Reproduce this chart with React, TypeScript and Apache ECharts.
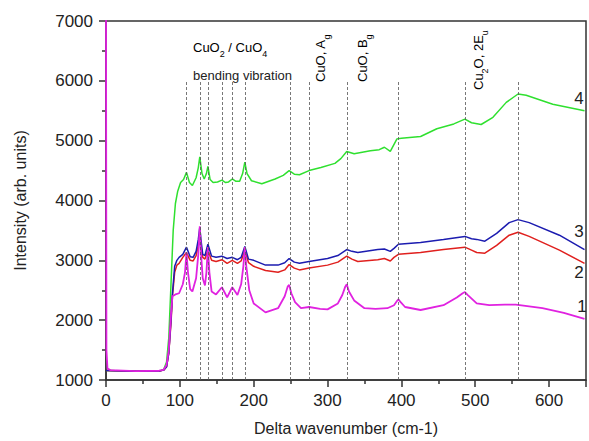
import React, { useEffect, useRef } from "react";
import * as echarts from "echarts";

// ---- data ----
const s1X = [0, 0.6, 2, 6, 40, 72, 78, 82, 85, 88, 90, 94, 99, 104, 107, 109, 111, 114, 117, 122, 125, 127, 129, 131, 134, 136, 138, 140, 143, 149, 157, 164, 171, 178, 183, 186, 188, 190, 194, 200, 216, 233, 242, 246, 248, 251, 256, 264, 275, 290, 300, 314, 320, 324, 326, 329, 336, 350, 365, 381, 390, 394, 396, 399, 405, 426, 457, 475, 483, 486, 490, 502, 519, 540, 555, 591, 620, 648];
const s1Y = [7300, 1500, 1190, 1165, 1150, 1155, 1170, 1250, 1500, 2100, 2400, 2430, 2450, 2600, 2800, 3130, 2800, 2520, 2480, 2700, 3100, 3570, 3050, 2700, 2580, 2800, 3220, 2800, 2480, 2430, 2550, 2380, 2550, 2420, 2600, 2900, 3220, 2900, 2500, 2280, 2130, 2200, 2400, 2560, 2590, 2450, 2300, 2200, 2220, 2190, 2180, 2280, 2420, 2560, 2600, 2480, 2330, 2200, 2190, 2200, 2250, 2320, 2350, 2300, 2220, 2170, 2250, 2380, 2450, 2470, 2420, 2280, 2250, 2260, 2260, 2200, 2120, 2020];

const s2X = [0, 40, 72, 78, 82, 85, 88, 90, 93, 96, 99, 104, 109, 114, 118, 122, 125, 127, 129, 131, 134, 138, 143, 149, 157, 164, 171, 178, 183, 188, 193, 200, 216, 233, 242, 248, 255, 262, 275, 300, 314, 326, 333, 341, 368, 377, 385, 390, 396, 426, 457, 486, 495, 502, 513, 529, 546, 558, 573, 614, 648];
const s2Y = [1160, 1145, 1150, 1165, 1220, 1450, 1950, 2400, 2800, 2920, 2950, 3050, 3130, 3000, 2990, 3080, 3250, 3450, 3200, 3050, 3020, 3170, 3000, 2980, 3010, 2950, 3000, 2950, 2990, 3170, 2960, 2900, 2830, 2800, 2840, 2930, 2870, 2840, 2870, 2920, 2970, 3070, 3020, 2980, 3010, 3030, 2990, 3050, 3100, 3130, 3180, 3220, 3170, 3130, 3120, 3250, 3420, 3470, 3400, 3170, 2950];

const s3X = [0, 40, 72, 78, 82, 85, 88, 90, 93, 96, 99, 104, 109, 114, 118, 122, 125, 127, 129, 131, 134, 138, 143, 149, 157, 164, 171, 178, 183, 188, 193, 200, 216, 233, 242, 248, 255, 262, 275, 300, 314, 326, 333, 341, 368, 377, 385, 390, 396, 426, 457, 486, 495, 502, 513, 529, 546, 558, 573, 614, 648];
const s3Y = [1160, 1145, 1150, 1165, 1220, 1450, 2000, 2450, 2900, 3000, 3050, 3100, 3220, 3060, 3050, 3150, 3350, 3550, 3300, 3100, 3080, 3270, 3070, 3050, 3070, 3030, 3050, 3010, 3050, 3230, 3020, 3000, 2920, 2920, 2960, 3030, 2970, 2950, 2980, 3030, 3080, 3180, 3150, 3130, 3180, 3190, 3150, 3200, 3270, 3300, 3350, 3400, 3360, 3350, 3320, 3450, 3630, 3680, 3630, 3420, 3180];

const s4X = [0, 40, 72, 78, 82, 85, 88, 91, 94, 97, 101, 105, 109, 113, 117, 122, 125, 127, 130, 133, 136, 138, 141, 145, 151, 157, 162, 166, 171, 176, 181, 185, 188, 191, 197, 211, 229, 240, 248, 255, 262, 275, 291, 310, 318, 326, 336, 358, 370, 377, 385, 394, 400, 426, 448, 471, 486, 495, 508, 524, 542, 558, 569, 605, 648];
const s4Y = [1160, 1145, 1150, 1170, 1300, 1700, 2600, 3500, 3950, 4150, 4300, 4350, 4470, 4300, 4250, 4380, 4550, 4730, 4450, 4360, 4450, 4570, 4350, 4300, 4310, 4340, 4300, 4310, 4360, 4320, 4320, 4450, 4640, 4450, 4330, 4280, 4360, 4420, 4500, 4440, 4430, 4500, 4550, 4620, 4700, 4820, 4780, 4830, 4850, 4890, 4820, 5030, 5040, 5070, 5200, 5280, 5360, 5300, 5270, 5390, 5640, 5780, 5760, 5610, 5500];

const bandPositions = [109, 127, 138, 157, 171, 188, 250, 275, 327, 396, 487, 558];
const seriesNames = ["1", "2", "3", "4"];
const yTicks = [1000, 7000, 1000]; // min, max, interval
const xRange = [0, 650, 100];

const FONT = "'Liberation Sans', Arial, Helvetica, sans-serif";

function pairs(xs: number[], ys: number[]) {
  return xs.map((x, i) => [x, ys[i]]);
}

export default function App() {
  const ref = useRef<HTMLDivElement>(null);

  useEffect(() => {
    if (!ref.current) return;
    const chart = echarts.init(ref.current, undefined, { renderer: "svg" });

    const rich = {
      n: { fontSize: 13, fontFamily: FONT, color: "#222", lineHeight: 16, verticalAlign: "top" },
      s: { fontSize: 9, fontFamily: FONT, color: "#222", lineHeight: 10, padding: [8, 0, 0, 0], verticalAlign: "top" },
    };

    const lineCommon = {
      type: "line",
      showSymbol: false,
      symbol: "none",
      smooth: false,
      clip: true,
      z: 3,
    };

    chart.setOption({
      animation: false,
      backgroundColor: "#ffffff",
      grid: {
        left: 106,
        top: 21,
        right: -2,
        bottom: 61,
        show: true,
        borderColor: "#333",
        borderWidth: 1.5,
        containLabel: false,
      },
      xAxis: {
        type: "value",
        min: xRange[0],
        max: xRange[1],
        interval: xRange[2],
        name: "Delta wavenumber (cm-1)",
        nameLocation: "middle",
        nameGap: 40,
        nameTextStyle: { fontSize: 16, fontFamily: FONT, color: "#222" },
        axisLine: { show: true, lineStyle: { color: "#333", width: 1.5 } },
        axisTick: { show: true, inside: false, length: 7, lineStyle: { color: "#333", width: 1.5 } },
        minorTick: { show: true, splitNumber: 2, length: 4, lineStyle: { color: "#333", width: 1.5 } },
        axisLabel: {
          fontSize: 17,
          fontFamily: FONT,
          color: "#222",
          margin: 12,
          formatter: (v: number) => (v > 600 ? "" : String(v)),
        },
        splitLine: { show: false },
      },
      yAxis: {
        type: "value",
        min: yTicks[0],
        max: yTicks[1],
        interval: yTicks[2],
        name: "Intensity (arb. units)",
        nameLocation: "middle",
        nameGap: 78,
        nameTextStyle: { fontSize: 16, fontFamily: FONT, color: "#222" },
        axisLine: { show: true, lineStyle: { color: "#333", width: 1.5 } },
        axisTick: { show: true, inside: false, length: 7, lineStyle: { color: "#333", width: 1.5 } },
        minorTick: { show: true, splitNumber: 2, length: 4, lineStyle: { color: "#333", width: 1.5 } },
        axisLabel: {
          fontSize: 17,
          fontFamily: FONT,
          color: "#222",
          margin: 13,
          formatter: (v: number) => String(v),
        },
        splitLine: { show: false },
      },
      series: [
        {
          type: "line",
          name: "bands",
          data: [],
          z: 1,
          silent: true,
          markLine: {
            silent: true,
            symbol: ["none", "none"],
            label: { show: false },
            lineStyle: { type: [3, 2], color: "#555", width: 0.8 },
            data: bandPositions.map((x) => [
              { coord: [x, 1000] },
              { coord: [x, 6000] },
            ]),
          },
        },
        {
          ...lineCommon,
          name: seriesNames[3],
          data: pairs(s4X, s4Y),
          lineStyle: { color: "#2fe02f", width: 1.5 },
          itemStyle: { color: "#2fe02f" },
        },
        {
          ...lineCommon,
          name: seriesNames[1],
          data: pairs(s2X, s2Y),
          lineStyle: { color: "#e0201e", width: 1.5 },
          itemStyle: { color: "#e0201e" },
        },
        {
          ...lineCommon,
          name: seriesNames[2],
          data: pairs(s3X, s3Y),
          lineStyle: { color: "#1c1cb0", width: 1.5 },
          itemStyle: { color: "#1c1cb0" },
        },
        {
          ...lineCommon,
          name: seriesNames[0],
          data: pairs(s1X, s1Y),
          lineStyle: { color: "#e022e0", width: 1.8 },
          itemStyle: { color: "#e022e0" },
        },
      ],
      graphic: [
        {
          type: "text",
          x: 193,
          y: 41,
          z: 10,
          style: {
            text: "{n|CuO}{s|2}{n| / CuO}{s|4}",
            rich,
            align: "left",
            verticalAlign: "top",
          },
        },
        {
          type: "text",
          x: 193,
          y: 75,
          z: 10,
          style: {
            text: "bending vibration",
            fontSize: 13,
            fontFamily: FONT,
            fill: "#222",
            align: "left",
            verticalAlign: "middle",
          },
        },
        {
          type: "text",
          x: 322,
          y: 82,
          rotation: Math.PI / 2,
          z: 10,
          style: {
            text: "{n|CuO, A}{s|g}",
            rich,
            align: "left",
            verticalAlign: "middle",
          },
        },
        {
          type: "text",
          x: 364,
          y: 82,
          rotation: Math.PI / 2,
          z: 10,
          style: {
            text: "{n|CuO, B}{s|g}",
            rich,
            align: "left",
            verticalAlign: "middle",
          },
        },
        {
          type: "text",
          x: 480,
          y: 90,
          rotation: Math.PI / 2,
          z: 10,
          style: {
            text: "{n|Cu}{s|2}{n|O, 2E}{s|u}",
            rich,
            align: "left",
            verticalAlign: "middle",
          },
        },
        {
          type: "text",
          x: 579,
          y: 98,
          z: 10,
          style: { text: seriesNames[3], fontSize: 17, fontFamily: FONT, fill: "#222", align: "center", verticalAlign: "middle" },
        },
        {
          type: "text",
          x: 579,
          y: 231,
          z: 10,
          style: { text: seriesNames[2], fontSize: 17, fontFamily: FONT, fill: "#222", align: "center", verticalAlign: "middle" },
        },
        {
          type: "text",
          x: 579,
          y: 272,
          z: 10,
          style: { text: seriesNames[1], fontSize: 17, fontFamily: FONT, fill: "#222", align: "center", verticalAlign: "middle" },
        },
        {
          type: "text",
          x: 582,
          y: 306,
          z: 10,
          style: { text: seriesNames[0], fontSize: 17, fontFamily: FONT, fill: "#222", align: "center", verticalAlign: "middle" },
        },
      ],
    });

    return () => {
      chart.dispose();
    };
  }, []);

  return (
    <div
      ref={ref}
      style={{ position: "fixed", left: 0, top: 0, width: 589, height: 441, background: "#fff" }}
    />
  );
}
